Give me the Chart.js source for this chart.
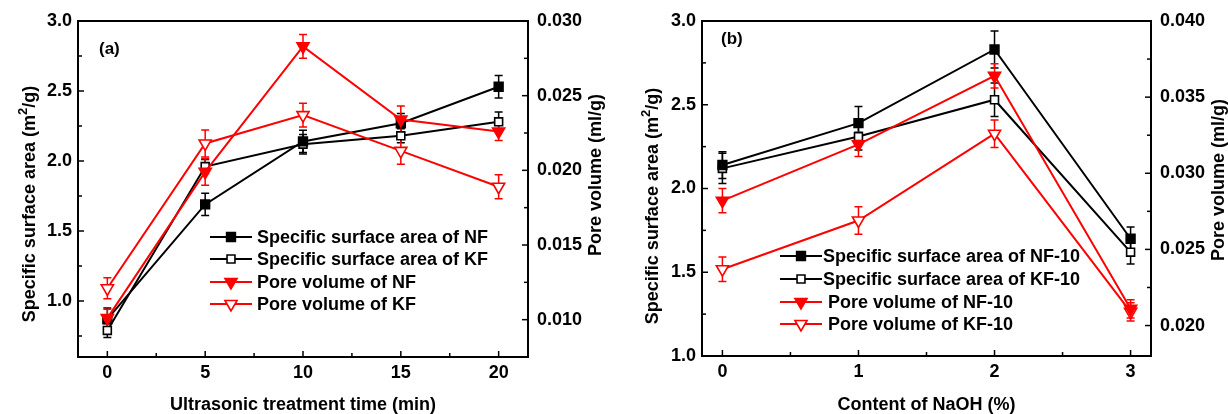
<!DOCTYPE html>
<html>
<head>
<meta charset="utf-8">
<script src="https://cdn.jsdelivr.net/npm/chart.js@4.4.0/dist/chart.umd.min.js"></script>
<style>
  html, body { margin: 0; padding: 0; background: #fff; }
  canvas { position: absolute; top: 0; }
</style>
</head>
<body>
<canvas id="chartA" width="614" height="414" style="left:0px"></canvas>
<canvas id="chartB" width="614" height="414" style="left:614px"></canvas>
<script>
// ---- (a) ultrasonic treatment time ----
const timeMin = [0, 5, 10, 15, 20];
const ssaNF = [0.87, 1.69, 2.14, 2.27, 2.53];
const ssaNFErr = [0.08, 0.08, 0.08, 0.07, 0.08];
const ssaKF = [0.79, 1.96, 2.12, 2.18, 2.28];
const ssaKFErr = [0.05, 0.05, 0.07, 0.05, 0.07];
const poreNF = [0.0101, 0.0199, 0.0283, 0.0234, 0.0226];
const poreNFErr = [0.0006, 0.0009, 0.0008, 0.0009, 0.0006];
const poreKF = [0.0121, 0.0218, 0.0237, 0.0213, 0.0189];
const poreKFErr = [0.0007, 0.0009, 0.0008, 0.0009, 0.0008];
const labelsA = ['Specific surface area of NF', 'Specific surface area of KF', 'Pore volume of NF', 'Pore volume of KF'];

const timeTicks = [0, 5, 10, 15, 20];
const timeMinor = [2.5, 7.5, 12.5, 17.5];
const ssaTicksA = [1.0, 1.5, 2.0, 2.5, 3.0];
const ssaMinorA = [0.75, 1.25, 1.75, 2.25, 2.75];
const poreTicksA = [0.010, 0.015, 0.020, 0.025, 0.030];
const poreMinorA = [0.0125, 0.0175, 0.0225, 0.0275];

// ---- (b) NaOH content ----
const naohPct = [0, 1, 2, 3];
const ssaNF10 = [2.14, 2.39, 2.83, 1.70];
const ssaNF10Err = [0.08, 0.10, 0.11, 0.07];
const ssaKF10 = [2.12, 2.31, 2.53, 1.62];
const ssaKF10Err = [0.09, 0.08, 0.10, 0.07];
const poreNF10 = [0.0282, 0.0319, 0.0364, 0.0211];
const poreNF10Err = [0.0008, 0.0008, 0.0008, 0.0006];
const poreKF10 = [0.0237, 0.0269, 0.0326, 0.0209];
const poreKF10Err = [0.0008, 0.0009, 0.0009, 0.0006];
const labelsB = ['Specific surface area of NF-10', 'Specific surface area of KF-10', 'Pore volume of NF-10', 'Pore volume of KF-10'];

const naohTicks = [0, 1, 2, 3];
const naohMinor = [0.5, 1.5, 2.5];
const ssaTicksB = [1.0, 1.5, 2.0, 2.5, 3.0];
const ssaMinorB = [1.25, 1.75, 2.25, 2.75];
const poreTicksB = [0.020, 0.025, 0.030, 0.035, 0.040];
const poreMinorB = [0.0225, 0.0275, 0.0325, 0.0375];

const FONT = '"Liberation Sans", Arial, sans-serif';
const BOLD = { family: FONT, size: 18, weight: 'bold', lineHeight: 1 };
const RED = '#ff0000';

const styleSSA_NF = { color: '#000', marker: 'rect', rotation: 0, radius: 6.2, filled: true, order: 1 };
const styleSSA_KF = { color: '#000', marker: 'rect', rotation: 0, radius: 5.6, filled: false, order: 1 };
const stylePore_NF = { color: RED, marker: 'triangle', rotation: 180, radius: 7, filled: true, order: 0 };
const stylePore_KF = { color: RED, marker: 'triangle', rotation: 180, radius: 7, filled: false, order: 0 };

function toDataset(label, xs, values, errors, axis, st) {
    return {
        label: label,
        data: xs.map((x, i) => ({ x: x, y: values[i] })),
        errors: errors,
        yAxisID: axis,
        borderColor: st.color,
        borderWidth: 2,
        pointStyle: st.marker,
        pointRotation: st.rotation,
        pointRadius: st.radius,
        pointBackgroundColor: st.filled ? st.color : '#fff',
        pointBorderColor: st.color,
        pointBorderWidth: 1.6,
        order: st.order,
        tension: 0,
        fill: false
    };
}

// error bars, inward tick marks, frame, rotated titles and the in-plot legend
const panelDecor = {
    id: 'panelDecor',
    beforeDatasetsDraw(chart) {
        const ctx = chart.ctx;
        ctx.save();
        chart.data.datasets.forEach((ds, i) => {
            const meta = chart.getDatasetMeta(i);
            const ys = chart.scales[ds.yAxisID];
            ctx.strokeStyle = ds.borderColor;
            ctx.lineWidth = 1.5;
            meta.data.forEach((pt, j) => {
                const v = ds.data[j].y, e = ds.errors[j];
                const top = ys.getPixelForValue(v + e);
                const bot = ys.getPixelForValue(v - e);
                ctx.beginPath();
                ctx.moveTo(pt.x, top); ctx.lineTo(pt.x, bot);
                ctx.moveTo(pt.x - 4, top); ctx.lineTo(pt.x + 4, top);
                ctx.moveTo(pt.x - 4, bot); ctx.lineTo(pt.x + 4, bot);
                ctx.stroke();
            });
        });
        ctx.restore();
    },
    afterDraw(chart, args, opts) {
        const ctx = chart.ctx;
        const a = chart.chartArea;
        const sx = chart.scales.x, sy = chart.scales.y, sy1 = chart.scales.y1;
        ctx.save();
        ctx.strokeStyle = '#000';
        ctx.lineWidth = 2;
        ctx.strokeRect(a.left, a.top, a.right - a.left, a.bottom - a.top);

        ctx.lineWidth = 1.5;
        const tick = (vals, len, fn) => vals.forEach(v => { ctx.beginPath(); fn(v, len); ctx.stroke(); });
        const xt = (v, len) => { const p = sx.getPixelForValue(v); ctx.moveTo(p, a.bottom); ctx.lineTo(p, a.bottom - len); };
        const lt = (v, len) => { const p = sy.getPixelForValue(v); ctx.moveTo(a.left, p); ctx.lineTo(a.left + len, p); };
        const rt = (v, len) => { const p = sy1.getPixelForValue(v); ctx.moveTo(a.right, p); ctx.lineTo(a.right - len, p); };
        tick(opts.xMajor, 6, xt); tick(opts.xMinor, 4, xt);
        tick(opts.yMajor, 6, lt); tick(opts.yMinor, 4, lt);
        tick(opts.y1Major, 6, rt); tick(opts.y1Minor, 4, rt);

        ctx.fillStyle = '#000';
        ctx.font = 'bold 18px ' + FONT;
        ctx.textBaseline = 'middle';

        // left title with superscript
        ctx.save();
        ctx.translate(opts.leftTitle.x, opts.leftTitle.y);
        ctx.rotate(-Math.PI / 2);
        const p1 = 'Specific surface area (m', p2 = '/g)', sup = '2';
        ctx.font = 'bold 18px ' + FONT;
        const w1 = ctx.measureText(p1).width, w2 = ctx.measureText(p2).width;
        ctx.font = 'bold 13px ' + FONT;
        const ws = ctx.measureText(sup).width;
        let x0 = -(w1 + ws + w2) / 2;
        ctx.textAlign = 'left';
        ctx.font = 'bold 18px ' + FONT;
        ctx.fillText(p1, x0, 0);
        ctx.font = 'bold 13px ' + FONT;
        ctx.fillText(sup, x0 + w1, -7);
        ctx.font = 'bold 18px ' + FONT;
        ctx.fillText(p2, x0 + w1 + ws, 0);
        ctx.restore();

        // right title
        ctx.save();
        ctx.translate(opts.rightTitle.x, opts.rightTitle.y);
        ctx.rotate(-Math.PI / 2);
        ctx.textAlign = 'center';
        ctx.fillText('Pore volume (ml/g)', 0, 0);
        ctx.restore();

        // panel tag
        ctx.textAlign = 'left';
        ctx.font = 'bold 17px ' + FONT;
        ctx.fillText(opts.tag.text, opts.tag.x, opts.tag.y);

        // legend
        const lg = opts.legend;
        chart.data.datasets.forEach((ds, i) => {
            const y = lg.rows[i];
            ctx.strokeStyle = ds.borderColor;
            ctx.lineWidth = 2;
            ctx.beginPath();
            ctx.moveTo(lg.x1, y); ctx.lineTo(lg.x2, y);
            ctx.stroke();
            ctx.fillStyle = ds.pointBackgroundColor;
            ctx.lineWidth = ds.pointBorderWidth;
            Chart.helpers.drawPoint(ctx, {
                pointStyle: ds.pointStyle, rotation: ds.pointRotation,
                radius: ds.pointRadius, borderWidth: ds.pointBorderWidth
            }, (lg.x1 + lg.x2) / 2, y);
            ctx.fillStyle = '#000';
            ctx.font = 'bold 18px ' + FONT;
            ctx.fillText(ds.label, lg.textX[i], y + 1);
        });
        ctx.restore();
    }
};

function buildPanel(id, p) {
    return new Chart(document.getElementById(id), {
        type: 'line',
        data: { datasets: p.datasets },
        plugins: [panelDecor],
        options: {
            responsive: false,
            animation: false,
            devicePixelRatio: 1,
            layout: { padding: { top: 21, left: 0, right: 0, bottom: 0 } },
            plugins: {
                legend: { display: false },
                tooltip: { enabled: false },
                panelDecor: p.decor
            },
            scales: {
                x: {
                    type: 'linear', min: p.xMin, max: p.xMax,
                    afterBuildTicks: s => { s.ticks = p.xTicks.map(v => ({ value: v })); },
                    afterFit: s => { s.height = p.xHeight; },
                    grid: { display: false, drawTicks: false },
                    border: { display: false },
                    ticks: { font: BOLD, color: '#000', padding: 7, maxRotation: 0, callback: v => String(v) },
                    title: { display: true, text: p.xTitle, font: BOLD, color: '#000', padding: { top: 0, bottom: 0 } }
                },
                y: {
                    position: 'left', min: p.yMin, max: p.yMax,
                    afterBuildTicks: s => { s.ticks = p.yTicks.map(v => ({ value: v })); },
                    afterFit: s => { s.width = p.yWidth; },
                    grid: { display: false, drawTicks: false },
                    border: { display: false },
                    ticks: { font: BOLD, color: '#000', padding: 6, callback: v => v.toFixed(1) }
                },
                y1: {
                    position: 'right', min: p.y1Min, max: p.y1Max,
                    afterBuildTicks: s => { s.ticks = p.y1Ticks.map(v => ({ value: v })); },
                    afterFit: s => { s.width = p.y1Width; },
                    grid: { display: false, drawTicks: false },
                    border: { display: false },
                    ticks: { font: BOLD, color: '#000', padding: 9, callback: v => v.toFixed(3) }
                }
            }
        }
    });
}

buildPanel('chartA', {
    datasets: [
        toDataset(labelsA[0], timeMin, ssaNF, ssaNFErr, 'y', styleSSA_NF),
        toDataset(labelsA[1], timeMin, ssaKF, ssaKFErr, 'y', styleSSA_KF),
        toDataset(labelsA[2], timeMin, poreNF, poreNFErr, 'y1', stylePore_NF),
        toDataset(labelsA[3], timeMin, poreKF, poreKFErr, 'y1', stylePore_KF)
    ],
    xMin: -1.5, xMax: 21.5, xTicks: timeTicks, xHeight: 57,
    xTitle: 'Ultrasonic treatment time (min)',
    yMin: 0.6, yMax: 3.0, yTicks: ssaTicksA, yWidth: 78,
    y1Min: 0.0075, y1Max: 0.030, y1Ticks: poreTicksA, y1Width: 86,
    decor: {
        xMajor: timeTicks, xMinor: timeMinor,
        yMajor: ssaTicksA, yMinor: ssaMinorA,
        y1Major: poreTicksA, y1Minor: poreMinorA,
        leftTitle: { x: 30, y: 204 }, rightTitle: { x: 596, y: 175 },
        tag: { text: '(a)', x: 99, y: 49 },
        legend: { x1: 210, x2: 252, rows: [237, 259, 282, 304], textX: [257, 257, 257, 257] }
    }
});

buildPanel('chartB', {
    datasets: [
        toDataset(labelsB[0], naohPct, ssaNF10, ssaNF10Err, 'y', styleSSA_NF),
        toDataset(labelsB[1], naohPct, ssaKF10, ssaKF10Err, 'y', styleSSA_KF),
        toDataset(labelsB[2], naohPct, poreNF10, poreNF10Err, 'y1', stylePore_NF),
        toDataset(labelsB[3], naohPct, poreKF10, poreKF10Err, 'y1', stylePore_KF)
    ],
    xMin: -0.15, xMax: 3.15, xTicks: naohTicks, xHeight: 58,
    xTitle: 'Content of NaOH (%)',
    yMin: 1.0, yMax: 3.0, yTicks: ssaTicksB, yWidth: 88,
    y1Min: 0.018, y1Max: 0.040, y1Ticks: poreTicksB, y1Width: 77,
    decor: {
        xMajor: naohTicks, xMinor: naohMinor,
        yMajor: ssaTicksB, yMinor: ssaMinorB,
        y1Major: poreTicksB, y1Minor: poreMinorB,
        leftTitle: { x: 39, y: 206 }, rightTitle: { x: 605, y: 180 },
        tag: { text: '(b)', x: 107, y: 39 },
        legend: { x1: 166, x2: 208, rows: [256, 279, 302, 324], textX: [209, 209, 214, 214] }
    }
});
</script>
</body>
</html>
